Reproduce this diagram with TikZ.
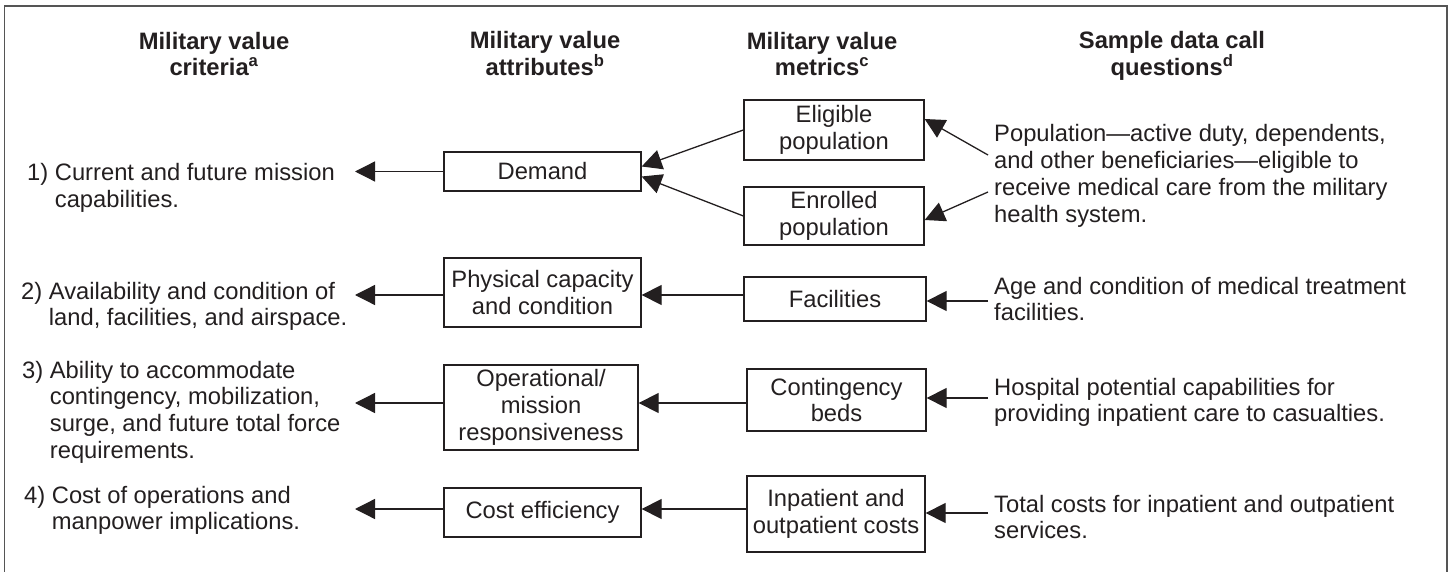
\documentclass[tikz,border=0pt]{standalone}
\usepackage{fontspec}
\setmainfont{Liberation Sans}
\usetikzlibrary{arrows.meta,calc}
\definecolor{ink}{RGB}{35,31,32}
\definecolor{framec}{RGB}{85,85,85}
\tikzset{
  txt/.style={font=\fontsize{23.75}{26.7}\selectfont, inner sep=0pt, align=left, text=ink},
  hdr/.style={font=\bfseries\fontsize{23.75}{26}\selectfont, inner sep=0pt, align=center, text=ink},
  bx/.style={draw=ink, line width=1.3pt, font=\fontsize{23.75}{26.7}\selectfont, align=center, inner sep=0pt, text=ink},
  arr/.style={draw=ink, line width=1.3pt, -{Triangle[length=20pt,width=20pt]}},
}
\begin{document}
\begin{tikzpicture}[x=1pt,y=-1pt]
\useasboundingbox (0,0) rectangle (1452,572);
\clip (0,0) rectangle (1452,572);
% frame (bottom edge lies outside the picture)
\draw[framec, line width=1.4pt] (4.5,580) |- (1447,6) -- (1447,580);

% headers (base anchor = baseline of the last line)
\node[hdr, anchor=base] (h1) at (214,76) {Military value\\criteria\textsuperscript{a}};
\node[hdr, anchor=base] (h2) at (545,76) {Military value\\attributes\textsuperscript{b}};
\node[hdr, anchor=base] (h3) at (822,76) {Military value\\metrics\textsuperscript{c}};
\node[hdr, anchor=base] (h4) at (1172,76) {Sample data call\\questions\textsuperscript{d}};

% criteria
\node[txt, anchor=base west] (c1) at (27,207.7) {1) Current and future mission\\\phantom{1)\ }capabilities.};
\node[txt, anchor=base west] (c2) at (21,325.7) {2) Availability and condition of\\\phantom{2)\ }land, facilities, and airspace.};
\node[txt, anchor=base west] (c3) at (22,458.1) {3) Ability to accommodate\\\phantom{3)\ }contingency, mobilization,\\\phantom{3)\ }surge, and future total force\\\phantom{3)\ }requirements.};
\node[txt, anchor=base west] (c4) at (24,529.7) {4) Cost of operations and\\\phantom{4)\ }manpower implications.};

% attributes
\node[bx, minimum width=197pt, minimum height=39pt] (dem) at (542.5,171.5) {Demand};
\node[bx, minimum width=197pt, minimum height=69pt] (phys) at (542.5,292.5) {Physical capacity\\and condition};
\node[bx, minimum width=194pt, minimum height=85pt] (oper) at (541,407.5) {Operational/\\mission\\responsiveness};
\node[bx, minimum width=197pt, minimum height=49pt] (cost) at (542.5,512.5) {Cost efficiency};

% metrics
\node[bx, minimum width=180pt, minimum height=60pt] (elig) at (834,130) {Eligible\\population};
\node[bx, minimum width=180pt, minimum height=58pt] (enr) at (834,216) {Enrolled\\population};
\node[bx, minimum width=182pt, minimum height=44pt] (fac) at (835,299) {Facilities};
\node[bx, minimum width=179pt, minimum height=62pt] (cont) at (836.5,400) {Contingency\\beds};
\node[bx, minimum width=178pt, minimum height=76pt] (inp) at (836,514) {Inpatient and\\outpatient costs};

% questions
\node[txt, anchor=base west] (q1) at (994,222.1) {Population---active duty, dependents,\\and other beneficiaries---eligible to\\receive medical care from the military\\health system.};
\node[txt, anchor=base west] (q2) at (994,320.7) {Age and condition of medical treatment\\facilities.};
\node[txt, anchor=base west] (q3) at (994,421.7) {Hospital potential capabilities for\\providing inpatient care to casualties.};
\node[txt, anchor=base west] (q4) at (994,538.7) {Total costs for inpatient and outpatient\\services.};

% helper coordinates
\coordinate (tipc) at (355,0);
\coordinate (qc) at (988,0);
\coordinate (r2) at (0,295);
\coordinate (r3) at (0,403);
\coordinate (r4) at (0,509);
\coordinate (s2) at (0,301);
\coordinate (s3) at (0,398);
\coordinate (s4) at (0,513);
\coordinate (q1a) at (988,155);
\coordinate (q1b) at (988,192);

% attributes -> criteria
\draw[arr] (dem.west) -- (dem.west -| tipc);
\draw[arr] (phys.west |- r2) -- (tipc |- r2);
\draw[arr] (oper.west |- r3) -- (tipc |- r3);
\draw[arr] (cost.west |- r4) -- (tipc |- r4);

% metrics -> attributes
\draw[arr] (elig.west) -- ([yshift=5pt]dem.east);
\draw[arr] (enr.west) -- ([yshift=-5pt]dem.east);
\draw[arr] (fac.west |- r2) -- (phys.east |- r2);
\draw[arr] (cont.west |- r3) -- (oper.east |- r3);
\draw[arr] (inp.west |- r4) -- (cost.east |- r4);

% questions -> metrics
\draw[arr] (q1a) -- ([yshift=11pt]elig.east);
\draw[arr] (q1b) -- ([yshift=-4pt]enr.east);
\draw[arr] (qc |- s2) -- (fac.east |- s2);
\draw[arr] (qc |- s3) -- (cont.east |- s3);
\draw[arr] (qc |- s4) -- (inp.east |- s4);
\end{tikzpicture}
\end{document}
